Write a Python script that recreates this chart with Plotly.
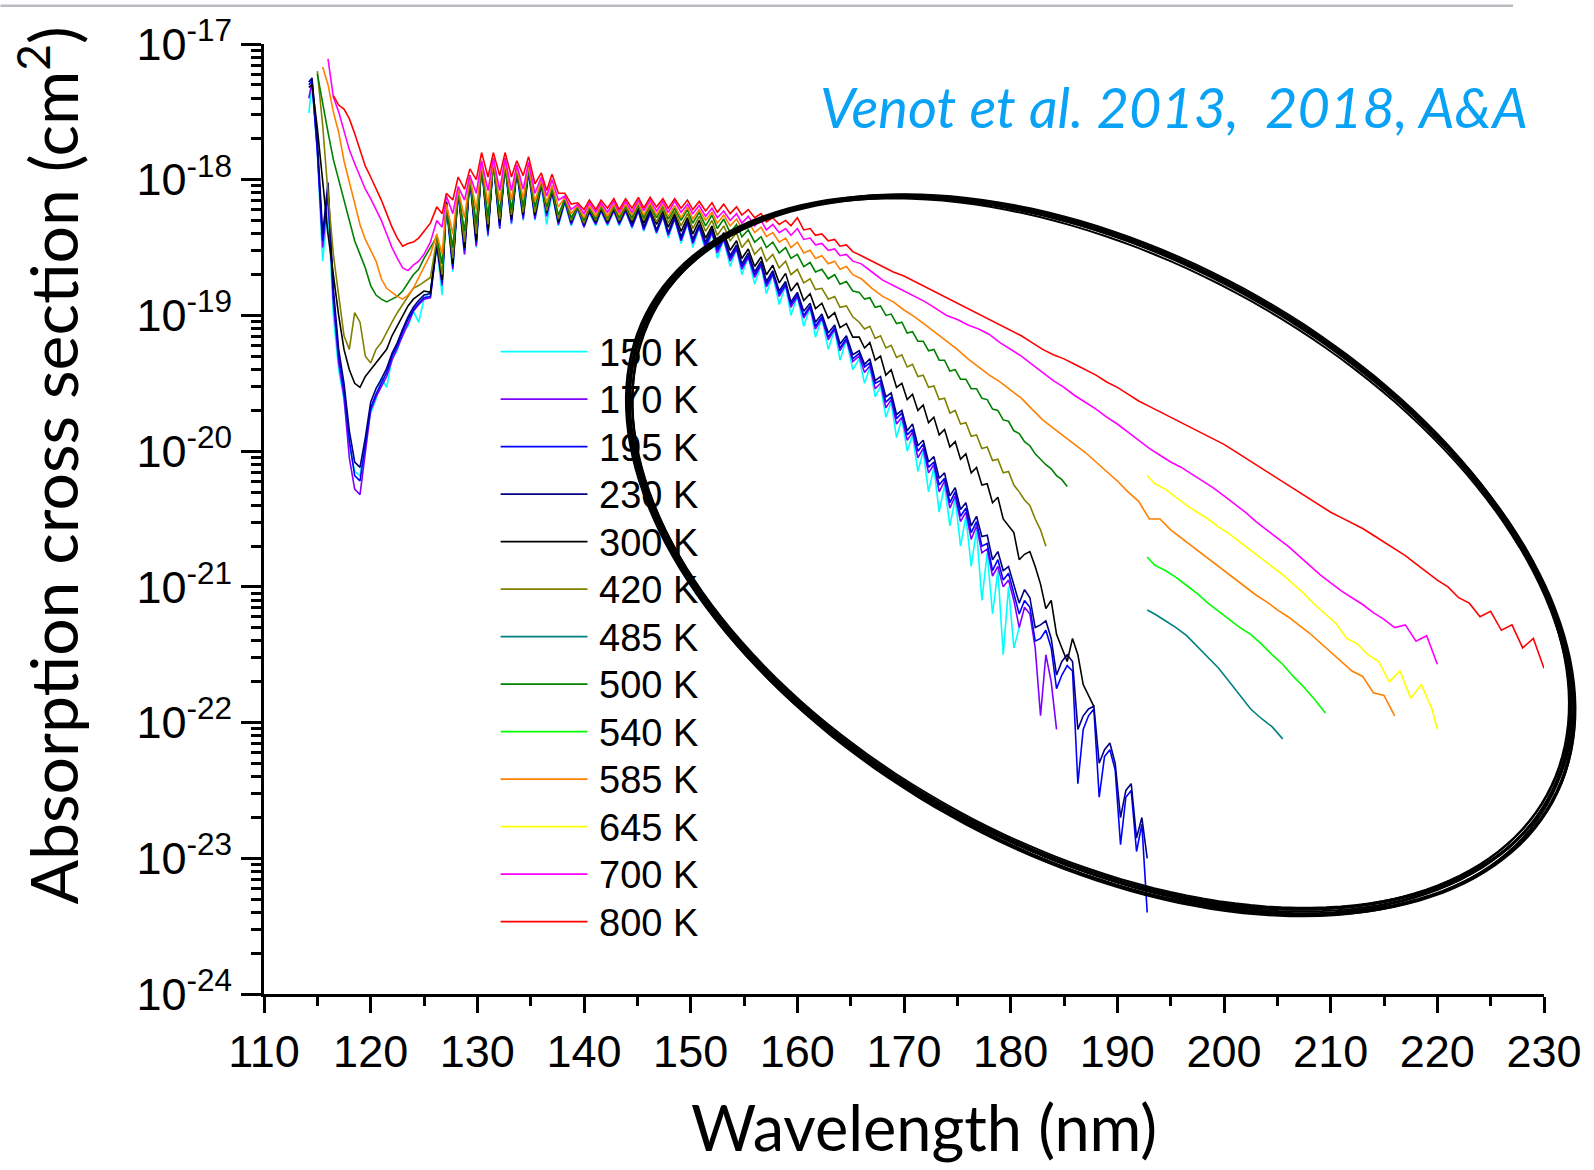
import numpy as np
import plotly.graph_objects as go

# ---------------- wavelength grids (nm) ----------------
wl_a = [114.2, 114.5, 115.0, 115.5, 116.0, 116.5, 117.0, 117.5, 118.0, 118.5, 119.0, 119.5,
        120.0, 120.5, 121.0, 121.5, 122.0, 122.5, 123.0, 123.5, 124.0, 124.5, 125.0, 125.6,
        126.2, 126.7, 127.1, 127.7, 128.2, 128.8, 129.3, 129.9, 130.4, 131.0, 131.5, 132.1, 132.6,
        133.2, 133.7, 134.3, 134.8, 135.4, 136.0, 136.5, 137.0, 137.6, 138.2, 138.8, 139.4, 140.0,
        140.5, 141.1, 141.6, 142.2, 142.8, 143.3, 143.9, 144.5, 145.1, 145.6, 146.2, 146.8, 147.4,
        147.9, 148.5, 149.1, 149.7, 150.2, 150.8, 151.4, 152.0, 152.5, 153.1, 153.7, 154.3, 154.8,
        155.4, 156.0, 156.6, 157.1, 157.7, 158.3, 158.9, 159.4, 160.0, 160.6, 161.2, 161.7, 162.3,
        162.9, 163.5, 164.0, 164.6, 165.2]
wl_b = [165.8, 166.3, 166.8, 167.3, 167.8, 168.3, 168.8, 169.3, 169.8, 170.3, 170.8, 171.3,
        171.8, 172.3, 172.8, 173.3, 173.8, 174.3, 174.8, 175.3, 175.8, 176.3, 176.8, 177.3, 177.8,
        178.3, 178.8, 179.3, 179.8, 180.3, 180.8, 181.3, 181.8, 182.3, 182.8, 183.3, 183.8, 184.3,
        184.8, 185.3, 185.8, 186.3, 186.8, 187.3, 187.8, 188.3, 188.8, 189.3, 189.8, 190.3, 190.8,
        191.3, 191.8, 192.3, 192.8]
wl_c = [166, 167, 168, 169, 170, 171, 172, 173, 174, 175, 176, 177, 178, 179, 180, 181, 182, 183,
        184, 185, 186, 187, 188, 189, 190, 191, 192, 193, 194, 195, 196, 197, 198, 199, 200, 201,
        202, 203, 204, 205, 206, 207, 208, 209, 210, 211, 212, 213, 214, 215, 216, 217, 218, 219,
        220, 221, 222, 223, 224, 225, 226, 227, 228, 229, 230]
wl_d = [192.8, 193.5, 194.5, 195.5, 196.5, 197.5, 198.5, 199.5, 200.5, 201.5, 202.5, 203.5,
        204.5, 205.5, 206.5, 207.5, 208.5, 209.5, 210.5, 211.5, 212.5, 213.5, 214.5, 215.5,
        216.5, 217.5, 218.5, 219.5, 220.0]

# ------------- log10 of absorption cross section (cm^2) -------------
lg_150K_a = [-17.51, -17.30, -17.80, -18.60, -18.20, -19.00, -19.40, -19.62, -19.96, -20.15, -20.18, -19.92,
             -19.72, -19.62, -19.46, -19.53, -19.32, -19.26, -19.12, -19.08, -18.97, -19.05, -18.88, -18.82,
             -18.50, -18.85, -18.20, -18.68, -18.10, -18.55, -18.00, -18.50, -17.90, -18.42, -17.88, -18.36, -17.90,
             -18.33, -17.95, -18.30, -17.95, -18.30, -18.05, -18.33, -18.10, -18.34, -18.17, -18.34, -18.22, -18.35,
             -18.24, -18.34, -18.23, -18.34, -18.23, -18.34, -18.23, -18.36, -18.23, -18.38, -18.25, -18.40, -18.27,
             -18.43, -18.29, -18.47, -18.32, -18.50, -18.35, -18.53, -18.39, -18.58, -18.44, -18.64, -18.51, -18.70,
             -18.57, -18.77, -18.63, -18.84, -18.70, -18.92, -18.78, -19.00, -18.86, -19.08, -18.94, -19.16, -19.02,
             -19.25, -19.10, -19.33, -19.18, -19.40]
lg_150K_b = [-19.32, -19.50, -19.38, -19.60, -19.52, -19.75, -19.64, -19.90, -19.76, -20.00,
             -19.88, -20.15, -20.00, -20.30, -20.12, -20.45, -20.25, -20.55, -20.35, -20.70,
             -20.48, -20.85, -20.58, -21.10, -20.75, -21.20, -20.88, -21.50, -21.00, -21.45, -21.30]

lg_170K_a = [-17.40, -17.28, -17.78, -18.50, -18.10, -18.90, -19.35, -19.60, -20.05, -20.28, -20.32, -20.00,
             -19.70, -19.60, -19.52, -19.45, -19.33, -19.24, -19.14, -19.05, -18.97, -18.92, -18.88, -18.87,
             -18.48, -18.78, -18.18, -18.66, -18.09, -18.55, -17.99, -18.49, -17.89, -18.41, -17.87, -18.36, -17.89,
             -18.32, -17.94, -18.29, -17.94, -18.29, -18.04, -18.27, -18.09, -18.33, -18.16, -18.33, -18.21, -18.35,
             -18.24, -18.33, -18.23, -18.33, -18.23, -18.33, -18.23, -18.35, -18.23, -18.37, -18.25, -18.39, -18.27,
             -18.41, -18.29, -18.45, -18.32, -18.47, -18.35, -18.50, -18.39, -18.54, -18.44, -18.60, -18.51, -18.66,
             -18.57, -18.72, -18.63, -18.79, -18.70, -18.86, -18.78, -18.94, -18.86, -19.02, -18.94, -19.10, -19.02,
             -19.18, -19.10, -19.26, -19.18, -19.34]
lg_170K_b = [-19.30, -19.42, -19.37, -19.54, -19.50, -19.68, -19.62, -19.80, -19.75, -19.92,
             -19.86, -20.05, -19.98, -20.16, -20.10, -20.30, -20.22, -20.42, -20.33, -20.52,
             -20.45, -20.65, -20.55, -20.75, -20.72, -20.92, -20.85, -21.00, -20.95, -21.10,
             -21.30, -21.15, -21.20, -21.45, -21.95, -21.50, -21.70, -22.05]

lg_195K_a = [-17.30, -17.27, -17.78, -18.45, -18.08, -18.85, -19.30, -19.55, -19.92, -20.18, -20.22, -19.95,
             -19.68, -19.58, -19.50, -19.42, -19.30, -19.22, -19.12, -19.03, -18.96, -18.91, -18.87, -18.86,
             -18.47, -18.76, -18.17, -18.64, -18.08, -18.52, -17.98, -18.47, -17.88, -18.39, -17.86, -18.34, -17.88,
             -18.30, -17.93, -18.27, -17.93, -18.27, -18.03, -18.25, -18.08, -18.32, -18.15, -18.32, -18.20, -18.34,
             -18.23, -18.32, -18.22, -18.32, -18.22, -18.32, -18.22, -18.34, -18.22, -18.36, -18.24, -18.38, -18.26,
             -18.40, -18.28, -18.44, -18.31, -18.46, -18.34, -18.48, -18.38, -18.52, -18.43, -18.58, -18.50, -18.64,
             -18.56, -18.70, -18.62, -18.77, -18.69, -18.84, -18.77, -18.92, -18.85, -19.00, -18.93, -19.08, -19.01,
             -19.16, -19.09, -19.24, -19.17, -19.32]
lg_195K_b = [-19.28, -19.38, -19.35, -19.50, -19.48, -19.64, -19.60, -19.76, -19.72, -19.88,
             -19.84, -20.00, -19.95, -20.12, -20.08, -20.25, -20.20, -20.38, -20.30, -20.48,
             -20.42, -20.60, -20.52, -20.70, -20.68, -20.88, -20.80, -20.95, -20.90, -21.05,
             -21.20, -21.10, -21.15, -21.40, -21.38, -21.32, -21.45, -21.75, -21.65, -21.58,
             -21.62, -22.45, -22.05, -21.95, -21.90, -22.55, -22.25, -22.20, -22.35, -22.90,
             -22.55, -22.50, -22.95, -22.75, -23.40]

lg_230K_a = [-17.28, -17.25, -17.70, -18.40, -18.02, -18.80, -19.25, -19.50, -19.85, -20.08, -20.12, -19.90,
             -19.64, -19.54, -19.47, -19.39, -19.28, -19.20, -19.10, -19.01, -18.94, -18.89, -18.85, -18.84,
             -18.46, -18.74, -18.16, -18.62, -18.07, -18.50, -17.97, -18.45, -17.87, -18.37, -17.85, -18.32, -17.87,
             -18.28, -17.92, -18.25, -17.92, -18.25, -18.02, -18.23, -18.07, -18.30, -18.14, -18.30, -18.19, -18.32,
             -18.22, -18.31, -18.21, -18.31, -18.21, -18.31, -18.21, -18.33, -18.21, -18.35, -18.23, -18.37, -18.25,
             -18.39, -18.27, -18.42, -18.30, -18.44, -18.33, -18.46, -18.36, -18.50, -18.41, -18.56, -18.48, -18.62,
             -18.54, -18.68, -18.60, -18.75, -18.67, -18.82, -18.75, -18.90, -18.83, -18.97, -18.91, -19.05, -18.99,
             -19.13, -19.07, -19.21, -19.15, -19.29]
lg_230K_b = [-19.26, -19.36, -19.32, -19.48, -19.45, -19.60, -19.57, -19.73, -19.70, -19.85,
             -19.80, -19.96, -19.92, -20.08, -20.04, -20.20, -20.16, -20.33, -20.27, -20.43,
             -20.38, -20.55, -20.48, -20.63, -20.62, -20.80, -20.74, -20.88, -20.85, -20.98,
             -21.12, -21.02, -21.08, -21.30, -21.28, -21.25, -21.38, -21.65, -21.55, -21.50,
             -21.55, -22.05, -21.95, -21.90, -21.88, -22.30, -22.20, -22.15, -22.30, -22.70,
             -22.50, -22.45, -22.85, -22.70, -23.00]

lg_300K_a = [-17.32, -17.30, -17.62, -18.00, -18.40, -18.70, -19.00, -19.25, -19.40, -19.50, -19.53, -19.45,
             -19.40, -19.35, -19.30, -19.25, -19.15, -19.08, -19.00, -18.93, -18.88, -18.85, -18.82, -18.83,
             -18.46, -18.74, -18.17, -18.62, -18.07, -18.50, -17.97, -18.45, -17.88, -18.37, -17.86, -18.32, -17.88,
             -18.29, -17.92, -18.26, -17.92, -18.26, -18.02, -18.24, -18.07, -18.31, -18.14, -18.31, -18.19, -18.33,
             -18.22, -18.31, -18.21, -18.31, -18.21, -18.31, -18.21, -18.31, -18.21, -18.32, -18.21, -18.33, -18.23,
             -18.35, -18.25, -18.38, -18.28, -18.40, -18.30, -18.43, -18.34, -18.47, -18.39, -18.52, -18.45, -18.58,
             -18.51, -18.64, -18.57, -18.70, -18.63, -18.76, -18.69, -18.82, -18.76, -18.89, -18.84, -18.95, -18.91,
             -19.02, -18.98, -19.09, -19.06, -19.16]
lg_300K_b = [-19.16, -19.24, -19.20, -19.33, -19.30, -19.44, -19.40, -19.53, -19.50, -19.62,
             -19.58, -19.70, -19.66, -19.79, -19.75, -19.88, -19.84, -19.97, -19.93, -20.06,
             -20.02, -20.16, -20.12, -20.25, -20.24, -20.38, -20.34, -20.50, -20.55, -20.60,
             -20.80, -20.76, -20.74, -20.85, -20.98, -21.16, -21.10, -21.35, -21.45, -21.55,
             -21.38, -21.50, -21.72, -21.80, -21.88]

lg_420K_a = [None, None, -17.20, -17.60, -18.10, -18.55, -18.85, -19.15, -19.25, -18.98, -19.05, -19.30,
             -19.35, -19.25, -19.20, -19.12, -19.05, -18.98, -18.92, -18.86, -18.80, -18.78, -18.75, -18.72,
             -18.44, -18.70, -18.18, -18.58, -18.08, -18.46, -17.98, -18.40, -17.89, -18.33, -17.87, -18.29, -17.89,
             -18.26, -17.92, -18.24, -17.92, -18.24, -18.02, -18.23, -18.06, -18.29, -18.14, -18.30, -18.20, -18.32,
             -18.21, -18.30, -18.20, -18.30, -18.20, -18.30, -18.20, -18.30, -18.19, -18.30, -18.20, -18.31, -18.21,
             -18.32, -18.23, -18.34, -18.25, -18.36, -18.27, -18.38, -18.30, -18.41, -18.34, -18.45, -18.39, -18.50,
             -18.44, -18.55, -18.50, -18.60, -18.55, -18.65, -18.60, -18.70, -18.66, -18.76, -18.73, -18.81, -18.80,
             -18.88, -18.86, -18.94, -18.93, -19.01]
lg_420K_b = [-19.05, -19.10, -19.08, -19.17, -19.15, -19.24, -19.22, -19.31, -19.29, -19.38,
             -19.36, -19.45, -19.44, -19.53, -19.52, -19.62, -19.61, -19.72, -19.70, -19.80,
             -19.79, -19.89, -19.88, -19.98, -19.97, -20.07, -20.06, -20.16, -20.15, -20.25,
             -20.30, -20.36, -20.40, -20.50, -20.58, -20.70]

lg_485K_d = [-21.17, -21.20, -21.25, -21.30, -21.36, -21.44, -21.52, -21.60, -21.70, -21.80,
             -21.90, -21.97, -22.03, -22.12]

lg_500K_a = [None, None, -17.22, -17.45, -17.65, -17.85, -18.00, -18.15, -18.30, -18.45, -18.55, -18.65,
             -18.78, -18.85, -18.88, -18.90, -18.88, -18.86, -18.82, -18.76, -18.70, -18.66, -18.58, -18.50,
             -18.42, -18.62, -18.20, -18.50, -18.08, -18.38, -17.98, -18.32, -17.90, -18.27, -17.88, -18.24, -17.90,
             -18.22, -17.93, -18.20, -17.92, -18.20, -18.02, -18.20, -18.06, -18.26, -18.14, -18.28, -18.20, -18.30,
             -18.20, -18.29, -18.19, -18.28, -18.19, -18.28, -18.19, -18.28, -18.18, -18.28, -18.18, -18.28, -18.19,
             -18.29, -18.21, -18.30, -18.22, -18.32, -18.24, -18.34, -18.26, -18.36, -18.29, -18.39, -18.33, -18.42,
             -18.37, -18.46, -18.42, -18.50, -18.46, -18.54, -18.50, -18.58, -18.55, -18.64, -18.61, -18.68, -18.66,
             -18.73, -18.70, -18.77, -18.75, -18.82]
lg_500K_b = [-18.83, -18.88, -18.87, -18.94, -18.93, -19.00, -18.99, -19.06, -19.05, -19.13,
             -19.12, -19.19, -19.19, -19.26, -19.25, -19.33, -19.33, -19.41, -19.40, -19.47,
             -19.47, -19.54, -19.54, -19.61, -19.62, -19.69, -19.70, -19.77, -19.78, -19.85,
             -19.87, -19.93, -19.96, -20.02, -20.06, -20.10, -20.13, -20.18, -20.21, -20.26]

lg_540K_d = [-20.78, -20.84, -20.88, -20.93, -20.99, -21.05, -21.12, -21.18, -21.24, -21.30,
             -21.35, -21.42, -21.50, -21.57, -21.66, -21.74, -21.83, -21.93]

lg_585K_a = [None, None, None, -17.17, -17.30, -17.50, -17.65, -17.86, -18.02, -18.17, -18.33, -18.44,
             -18.52, -18.60, -18.73, -18.80, -18.83, -18.86, -18.88, -18.85, -18.80, -18.72, -18.64, -18.55,
             -18.40, -18.55, -18.18, -18.40, -18.07, -18.28, -17.98, -18.22, -17.88, -18.18, -17.86, -18.16, -17.87,
             -18.15, -17.91, -18.14, -17.90, -18.16, -18.00, -18.17, -18.04, -18.20, -18.13, -18.25, -18.19, -18.28,
             -18.19, -18.27, -18.18, -18.27, -18.18, -18.26, -18.18, -18.26, -18.17, -18.26, -18.17, -18.26, -18.18,
             -18.27, -18.19, -18.28, -18.20, -18.29, -18.22, -18.30, -18.24, -18.32, -18.26, -18.34, -18.29, -18.36,
             -18.31, -18.39, -18.35, -18.42, -18.39, -18.46, -18.43, -18.50, -18.46, -18.54, -18.52, -18.58, -18.56,
             -18.62, -18.60, -18.66, -18.64, -18.70]
lg_585K_c = [-18.73, -18.80, -18.86, -18.90, -18.96, -19.01, -19.07, -19.13, -19.19, -19.25,
             -19.32, -19.38, -19.44, -19.49, -19.55, -19.61, -19.69, -19.77, -19.83, -19.89,
             -19.95, -20.01, -20.08, -20.15, -20.22, -20.30, -20.37, -20.50, -20.50, -20.58,
             -20.64, -20.70, -20.76, -20.82, -20.88, -20.94, -21.00, -21.06, -21.11, -21.17,
             -21.22, -21.28, -21.34, -21.41, -21.48, -21.55, -21.62, -21.66, -21.78, -21.80,
             -21.95]

lg_645K_d = [-20.18, -20.24, -20.28, -20.34, -20.40, -20.45, -20.50, -20.56, -20.61, -20.67,
             -20.73, -20.79, -20.85, -20.91, -20.98, -21.05, -21.13, -21.20, -21.27, -21.38,
             -21.42, -21.50, -21.55, -21.70, -21.62, -21.82, -21.72, -21.90, -22.05]

lg_700K_a = [None, None, None, None, -17.11, -17.39, -17.50, -17.64, -17.78, -17.88, -17.97, -18.07,
             -18.14, -18.22, -18.30, -18.40, -18.50, -18.58, -18.65, -18.67, -18.63, -18.60, -18.55, -18.46,
             -18.30, -18.35, -18.12, -18.25, -18.05, -18.15, -17.97, -18.10, -17.86, -18.08, -17.84, -18.08, -17.84,
             -18.08, -17.89, -18.07, -17.87, -18.10, -17.98, -18.12, -18.00, -18.15, -18.12, -18.22, -18.18, -18.25,
             -18.17, -18.24, -18.17, -18.24, -18.16, -18.24, -18.16, -18.24, -18.15, -18.23, -18.15, -18.23, -18.16,
             -18.24, -18.16, -18.24, -18.18, -18.25, -18.19, -18.27, -18.21, -18.28, -18.23, -18.30, -18.25, -18.32,
             -18.27, -18.34, -18.30, -18.37, -18.33, -18.39, -18.36, -18.41, -18.36, -18.44, -18.43, -18.48, -18.47,
             -18.52, -18.51, -18.56, -18.55, -18.60]
lg_700K_c = [-18.62, -18.68, -18.74, -18.78, -18.82, -18.86, -18.90, -18.95, -19.00, -19.03,
             -19.07, -19.10, -19.14, -19.20, -19.25, -19.30, -19.36, -19.42, -19.48, -19.53,
             -19.59, -19.64, -19.69, -19.75, -19.80, -19.86, -19.92, -19.98, -20.03, -20.08,
             -20.12, -20.17, -20.22, -20.27, -20.33, -20.39, -20.45, -20.52, -20.58, -20.64,
             -20.70, -20.77, -20.84, -20.91, -20.97, -21.03, -21.08, -21.13, -21.19, -21.24,
             -21.30, -21.28, -21.40, -21.36, -21.57]

lg_800K_a = [None, None, None, None, None, -17.38, -17.45, -17.48, -17.55, -17.66, -17.78, -17.90,
             -17.98, -18.06, -18.15, -18.25, -18.35, -18.43, -18.49, -18.47, -18.46, -18.43, -18.38, -18.32,
             -18.20, -18.25, -18.10, -18.15, -17.98, -18.07, -17.92, -18.00, -17.80, -17.98, -17.80, -17.97, -17.80,
             -17.98, -17.86, -17.97, -17.83, -18.03, -17.95, -18.08, -17.96, -18.10, -18.10, -18.18, -18.17, -18.22,
             -18.15, -18.22, -18.15, -18.21, -18.14, -18.22, -18.14, -18.21, -18.13, -18.21, -18.13, -18.20, -18.14,
             -18.21, -18.14, -18.21, -18.15, -18.22, -18.16, -18.23, -18.17, -18.24, -18.18, -18.25, -18.20, -18.26,
             -18.22, -18.28, -18.25, -18.31, -18.28, -18.33, -18.30, -18.34, -18.28, -18.37, -18.36, -18.41, -18.40,
             -18.45, -18.44, -18.49, -18.48, -18.53]
lg_800K_c = [-18.56, -18.60, -18.64, -18.68, -18.71, -18.75, -18.79, -18.83, -18.87, -18.91,
             -18.95, -18.99, -19.03, -19.07, -19.11, -19.15, -19.20, -19.25, -19.29, -19.32,
             -19.36, -19.40, -19.44, -19.49, -19.53, -19.58, -19.63, -19.67, -19.71, -19.75,
             -19.79, -19.83, -19.87, -19.91, -19.95, -20.00, -20.05, -20.10, -20.15, -20.20,
             -20.25, -20.30, -20.35, -20.40, -20.45, -20.49, -20.53, -20.57, -20.62, -20.67,
             -20.72, -20.77, -20.83, -20.89, -20.95, -21.00, -21.08, -21.12, -21.22, -21.18,
             -21.32, -21.28, -21.45, -21.38, -21.60]

temperatures = ["150 K", "170 K", "195 K", "230 K", "300 K", "420 K", "485 K",
                "500 K", "540 K", "585 K", "645 K", "700 K", "800 K"]
colors = ["#00FFFF", "#8000FF", "#0000FF", "#000080", "#000000", "#808000", "#008080",
          "#008000", "#00FF00", "#FF8000", "#FFFF00", "#FF00FF", "#FF0000"]

for arr in [lg_150K_a, lg_170K_a, lg_195K_a, lg_230K_a, lg_300K_a, lg_420K_a,
            lg_500K_a, lg_585K_a, lg_700K_a, lg_800K_a]:
    if len(arr) != len(wl_a):
        raise ValueError("grid A length mismatch: %d" % len(arr))


def join(parts):
    xs, ys = [], []
    for grid, vals in parts:
        xs += grid[:len(vals)]
        ys += [None if v is None else 10.0 ** v for v in vals]
    return xs, ys


series = [
    join([(wl_a, lg_150K_a), (wl_b, lg_150K_b)]),
    join([(wl_a, lg_170K_a), (wl_b, lg_170K_b)]),
    join([(wl_a, lg_195K_a), (wl_b, lg_195K_b)]),
    join([(wl_a, lg_230K_a), (wl_b, lg_230K_b)]),
    join([(wl_a, lg_300K_a), (wl_b, lg_300K_b)]),
    join([(wl_a, lg_420K_a), (wl_b, lg_420K_b)]),
    join([(wl_d, lg_485K_d)]),
    join([(wl_a, lg_500K_a), (wl_b, lg_500K_b)]),
    join([(wl_d, lg_540K_d)]),
    join([(wl_a, lg_585K_a), (wl_c, lg_585K_c)]),
    join([(wl_d, lg_645K_d)]),
    join([(wl_a, lg_700K_a), (wl_c, lg_700K_c)]),
    join([(wl_a, lg_800K_a), (wl_c, lg_800K_c)]),
]

x_ticks = [110, 120, 130, 140, 150, 160, 170, 180, 190, 200, 210, 220, 230]
x_minor = [115, 125, 135, 145, 155, 165, 175, 185, 195, 205, 215, 225]
y_exponents = [-24, -23, -22, -21, -20, -19, -18, -17]

fig = go.Figure()
for name, col, (xs, ys) in zip(temperatures, colors, series):
    fig.add_trace(go.Scatter(x=xs, y=ys, mode="lines", name=name,
                             line=dict(color=col, width=1.6), showlegend=False))

# ---------------- layout geometry (pixels) ----------------
W, H = 1594, 1170
L, R, T, B = 264, 48, 40, 176
PW, PH = W - L - R, H - T - B


def px(xp):
    return (xp - L) / PW


def py(yp):
    return (H - B - yp) / PH


shapes = []
annotations = []

# custom legend (line sample + label)
for i, (name, col) in enumerate(zip(temperatures, colors)):
    yy = 349 + 47.7 * i
    shapes.append(dict(type="line", xref="paper", yref="paper",
                       x0=px(501), x1=px(588), y0=py(yy), y1=py(yy),
                       line=dict(color=col, width=1.8)))
    annotations.append(dict(text=name, xref="paper", yref="paper", x=px(598), y=py(yy + 1),
                            xanchor="left", yanchor="middle", showarrow=False,
                            font=dict(family="Liberation Sans, Arial", size=38, color="black")))

# hand-drawn ellipse (several tightly overlapping strokes)
cx0, cy0, a0, b0, th0 = 1102, 552, 512, 299, 28.6
variants = [(0, 0, 0, 0, 0.0), (2, -1, 1, 1, 0.25), (-2, 1, -1, -1, -0.2), (3, 1, 1, 2, 0.15),
            (-1, -2, 2, -1, -0.3), (1, 2, -1, 2, 0.35), (-3, 0, 0, -2, 0.1), (1, -3, -2, 0, -0.15),
            (4, 2, 0, 1, -0.05), (-2, 3, 1, 0, 0.2)]
t = np.linspace(0, 2 * np.pi, 180)
for da, db, dx, dy, dth in variants:
    a, b = a0 + da, b0 + db
    cx, cy = cx0 + dx, cy0 + dy
    th = np.radians(th0 + dth)
    ex = cx + a * np.cos(t) * np.cos(th) - b * np.sin(t) * np.sin(th)
    ey = cy + a * np.cos(t) * np.sin(th) + b * np.sin(t) * np.cos(th)
    path = "M " + " L ".join("%.5f,%.5f" % (px(u), py(v)) for u, v in zip(ex, ey)) + " Z"
    shapes.append(dict(type="path", xref="paper", yref="paper", path=path,
                       line=dict(color="black", width=2), layer="above"))

# thin grey rule at the very top
shapes.append(dict(type="line", xref="paper", yref="paper", x0=px(0), x1=px(1515),
                   y0=py(1.5), y1=py(1.5), line=dict(color="#B8BCC0", width=2.5)))

annotations.append(dict(text="Venot et al. 2013,\u00a0 2018, A&amp;A", xref="paper", yref="paper",
                        x=px(1532), y=py(103), xanchor="right", yanchor="middle", showarrow=False,
                        font=dict(family="Lato", size=56, color="#0AA2F5", style="italic")))
annotations.append(dict(text="Wavelength (nm)", xref="paper", yref="paper",
                        x=px(925), y=py(1167), xanchor="center", yanchor="bottom", showarrow=False,
                        font=dict(family="Lato", size=63, color="black")))
annotations.append(dict(text="Absorption cross section (cm<sup>2</sup>)", xref="paper", yref="paper",
                        x=px(48), y=py(463), xanchor="center", yanchor="middle", showarrow=False,
                        textangle=-90, font=dict(family="Lato", size=66, color="black")))

fig.update_layout(
    width=W, height=H, margin=dict(l=L, r=R, t=T, b=B),
    paper_bgcolor="white", plot_bgcolor="white", showlegend=False,
    shapes=shapes, annotations=annotations,
    xaxis=dict(range=[110, 230], tickmode="array", tickvals=x_ticks,
               ticktext=[str(v) for v in x_ticks],
               ticks="outside", ticklen=16, tickwidth=3, tickcolor="black",
               showline=True, linecolor="black", linewidth=3, showgrid=False, zeroline=False,
               tickfont=dict(family="Liberation Sans, Arial", size=45, color="black"),
               minor=dict(tickmode="array", tickvals=x_minor, ticks="outside", ticklen=9,
                          tickwidth=3, tickcolor="black", showgrid=False)),
    yaxis=dict(type="log", range=[-24, -17], tickmode="array",
               tickvals=[10.0 ** e for e in y_exponents],
               ticktext=["10<sup>%d</sup>" % e for e in y_exponents],
               ticks="outside", ticklen=20, tickwidth=3, tickcolor="black",
               showline=True, linecolor="black", linewidth=3, showgrid=False, zeroline=False,
               tickfont=dict(family="Liberation Sans, Arial", size=45, color="black"),
               minor=dict(tickmode="array",
                          tickvals=[k * 10.0 ** e for e in range(-24, -17) for k in range(2, 10)],
                          ticks="outside", ticklen=10, tickwidth=2.5, tickcolor="black",
                          showgrid=False)),
)

fig.write_html("out.html")
